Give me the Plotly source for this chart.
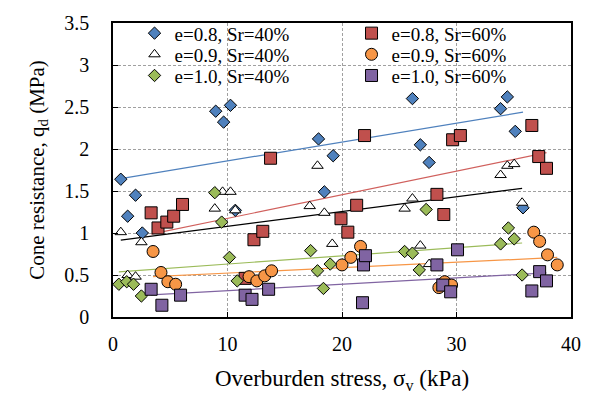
import plotly.graph_objects as go
import numpy as np

# Overburden stress (kPa) and cone resistance (MPa) for each soil state
x_e08_s40 = [0.68, 1.28, 1.97, 2.56, 8.97, 9.66, 10.26, 10.68, 17.95, 18.46, 19.23, 26.15, 26.84, 27.61, 33.85, 34.44, 35.13, 35.81]
y_e08_s40 = [1.64, 1.20, 1.45, 1.00, 2.45, 2.32, 2.52, 1.27, 2.12, 1.49, 1.92, 2.60, 2.05, 1.84, 2.48, 2.62, 2.21, 1.30]

x_e08_s60 = [3.33, 3.93, 4.70, 5.30, 6.07, 11.54, 12.31, 13.08, 13.76, 19.91, 20.51, 21.28, 21.97, 28.29, 28.89, 29.66, 30.34, 36.58, 37.18, 37.86]
y_e08_s60 = [1.24, 1.06, 1.13, 1.20, 1.34, 0.46, 0.92, 1.02, 1.89, 1.17, 1.01, 1.33, 2.16, 1.46, 1.22, 2.11, 2.16, 2.28, 1.91, 1.77]

x_e09_s40 = [0.68, 1.28, 1.97, 2.48, 8.89, 9.57, 10.26, 10.68, 17.18, 17.86, 18.46, 19.15, 25.47, 26.15, 26.84, 27.61, 33.85, 34.44, 35.04, 35.73]
y_e09_s40 = [1.01, 0.50, 0.48, 0.89, 1.29, 1.49, 1.49, 1.27, 1.32, 1.80, 1.24, 0.87, 1.29, 1.41, 0.85, 0.63, 1.69, 1.80, 1.82, 1.36]

x_e09_s60 = [3.50, 4.19, 4.79, 5.47, 11.88, 12.56, 13.25, 13.85, 20.00, 20.77, 21.62, 28.46, 28.97, 29.57, 36.75, 37.26, 37.95, 38.80]
y_e09_s60 = [0.78, 0.53, 0.42, 0.39, 0.48, 0.43, 0.49, 0.55, 0.62, 0.71, 0.84, 0.35, 0.42, 0.38, 1.01, 0.90, 0.74, 0.62]

x_e10_s40 = [0.51, 1.20, 1.79, 2.48, 8.89, 9.49, 10.17, 10.85, 17.26, 17.86, 18.38, 18.97, 25.47, 26.15, 26.75, 27.35, 33.85, 34.53, 35.04, 35.73]
y_e10_s40 = [0.39, 0.42, 0.39, 0.25, 1.48, 1.13, 0.71, 0.43, 0.79, 0.55, 0.34, 0.63, 0.78, 0.76, 0.56, 1.28, 0.87, 1.06, 0.93, 0.50]

x_e10_s60 = [3.33, 4.27, 5.90, 11.54, 12.14, 13.59, 21.79, 21.88, 22.05, 28.29, 28.80, 29.49, 30.09, 36.58, 37.26, 37.86]
y_e10_s60 = [0.33, 0.14, 0.26, 0.26, 0.21, 0.33, 0.17, 0.62, 0.73, 0.62, 0.38, 0.30, 0.80, 0.31, 0.54, 0.43]

# Linear trend lines: q_d = intercept + slope * sigma_v
trend_intercept = [1.633, 0.893, 0.903, 0.458, 0.533, 0.238]
trend_slope = [0.0225, 0.0281, 0.0176, 0.00647, 0.00974, 0.0076]

labels = ["e=0.8, Sr=40%", "e=0.8, Sr=60%", "e=0.9, Sr=40%",
          "e=0.9, Sr=60%", "e=1.0, Sr=40%", "e=1.0, Sr=60%"]

series = [
    (x_e08_s40, y_e08_s40, "diamond", "#4F81BD", 9.5, "#4F81BD"),
    (x_e08_s60, y_e08_s60, "square", "#C0504D", 12, "#D0605D"),
    (x_e09_s40, y_e09_s40, "triangle-up", "white", 10, "black"),
    (x_e09_s60, y_e09_s60, "circle", "#F79646", 12, "#F79646"),
    (x_e10_s40, y_e10_s40, "diamond", "#9BBB59", 9.5, "#9BBB59"),
    (x_e10_s60, y_e10_s60, "square", "#8064A2", 12, "#8064A2"),
]
# one legend row per void ratio
legend_ids = ["legend", "legend", "legend2", "legend2", "legend3", "legend3"]

FONT = "Liberation Serif, Times New Roman, serif"

fig = go.Figure()

# trend lines first so the markers sit on top
for i, (xs, ys, sym, col, size, lcol) in enumerate(series):
    xl = np.array([min(xs), max(xs)])
    fig.add_trace(go.Scatter(
        x=xl, y=trend_intercept[i] + trend_slope[i] * xl,
        mode="lines", line=dict(color=lcol, width=1.2),
        showlegend=False, hoverinfo="skip"))

for i, (xs, ys, sym, col, size, lcol) in enumerate(series):
    fig.add_trace(go.Scatter(
        x=xs, y=ys, mode="markers", name=labels[i], legend=legend_ids[i],
        marker=dict(symbol=sym, color=col, size=size,
                    line=dict(color="black", width=1))))

axis_common = dict(
    showline=True, linecolor="black", linewidth=1.6, mirror=True,
    ticks="inside", ticklen=5, tickcolor="black",
    showgrid=True, gridcolor="#a0a0a0", gridwidth=1, griddash="3px,2px",
    zeroline=False,
    tickfont=dict(family=FONT, size=20, color="black"),
)

legend_common = dict(
    orientation="h", x=0.047, xanchor="left", yanchor="middle",
    entrywidth=172, bgcolor="rgba(0,0,0,0)", borderwidth=0,
    font=dict(family=FONT, size=19, color="black"), itemclick=False,
)

fig.update_layout(
    width=593, height=399,
    margin=dict(l=113, r=12, t=15, b=78),
    paper_bgcolor="white", plot_bgcolor="white",
    font=dict(family=FONT, color="black"),
    xaxis=dict(range=[0, 40], dtick=10, ticklabelstandoff=8,
               title=dict(text="Overburden stress, σ<sub>v</sub> (kPa)",
                          font=dict(family=FONT, size=23), standoff=16),
               **axis_common),
    yaxis=dict(range=[0, 3.5], dtick=0.5, ticklabelstandoff=18,
               title=dict(text="Cone resistance, q<sub>d</sub> (MPa)",
                          font=dict(family=FONT, size=21), standoff=14),
               **axis_common),
    legend=dict(y=0.965, **legend_common),
    legend2=dict(y=0.893, **legend_common),
    legend3=dict(y=0.821, **legend_common),
    # white panel behind the legend rows, hiding the grid there
    shapes=[dict(type="rect", xref="paper", yref="paper",
                 x0=0.006, x1=0.94, y0=0.762, y1=0.996,
                 fillcolor="white", line=dict(width=0), layer="between")],
)

fig.write_html("out.html")
